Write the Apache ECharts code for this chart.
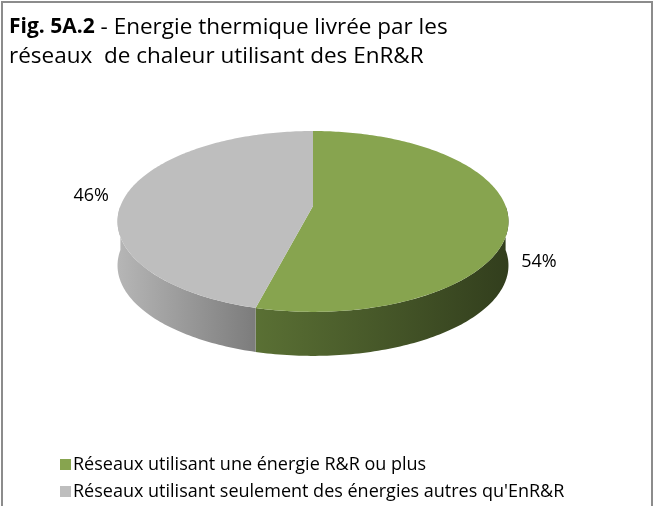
<!DOCTYPE html>
<html>
<head>
<meta charset="utf-8">
<script src="https://cdn.jsdelivr.net/npm/echarts@6/dist/echarts.min.js"></script>
<style>
  html, body { margin: 0; padding: 0; background: #fff; }
  #chart { width: 656px; height: 506px; }
</style>
</head>
<body>
<div id="chart"></div>
<script>
// data
const categories = ['Réseaux utilisant une énergie R&R ou plus', "Réseaux utilisant seulement des énergies autres qu'EnR&R"];
const shares = [54, 46];

// look
const topColors = ['#87a44f', '#bebebe'];
const sideColors = [['#5a7034', '#323e1d'], ['#b6b6b6', '#7c7c7c']];
const labelShift = [[13, 45], [-17, 1]];

// 3d projection of the pie disc
const CX = 313, CY = 206, A = 192.6, B = 87.8, K = 0.171, H = 44;
function proj(deg) {
  const t = deg * Math.PI / 180;
  const u = Math.sin(t), v = -Math.cos(t);
  const s = 1 / (1 - K * v);
  return [CX + A * u * s, CY + B * v * s];
}
function arc(a0, a1, dy) {
  const pts = [];
  const n = Math.max(2, Math.ceil(Math.abs(a1 - a0)));
  for (let i = 0; i <= n; i++) {
    const p = proj(a0 + (a1 - a0) * i / n);
    pts.push([p[0], p[1] + dy]);
  }
  return pts;
}

const total = shares.reduce((a, b) => a + b, 0);

const chart = echarts.init(document.getElementById('chart'));

function renderSlice(params, api) {
  const i = params.dataIndex;
  let before = 0;
  for (let j = 0; j < i; j++) before += shares[j];
  const a0 = before / total * 360;
  const a1 = a0 + api.value(0) / total * 360;
  const children = [];

  // side wall (front half only)
  const s0 = Math.max(a0, 90), s1 = Math.min(a1, 270);
  if (s1 > s0) {
    const topEdge = arc(s0, s1, 0);
    const botEdge = arc(s1, s0, H);
    const xs = topEdge.map(p => p[0]);
    const x0 = Math.min.apply(null, xs), x1 = Math.max.apply(null, xs);
    children.push({
      type: 'polygon',
      z2: 1,
      shape: { points: topEdge.concat(botEdge) },
      style: {
        fill: new echarts.graphic.LinearGradient(x0, 0, x1, 0, [
          { offset: 0, color: sideColors[i][0] },
          { offset: 1, color: sideColors[i][1] }
        ], true)
      }
    });
  }

  // top face
  children.push({
    type: 'polygon',
    z2: 10,
    shape: { points: [[CX, CY]].concat(arc(a0, a1, 0)) },
    style: { fill: topColors[i] }
  });

  // percentage label
  const mid = proj((a0 + a1) / 2);
  const right = mid[0] > CX;
  children.push({
    type: 'text',
    z2: 20,
    x: mid[0] + labelShift[i][0],
    y: mid[1] + labelShift[i][1],
    style: {
      text: Math.round(api.value(0) / total * 100) + '%',
      fill: '#000',
      font: '18px "Open Sans"',
      align: right ? 'left' : 'right',
      verticalAlign: 'middle'
    }
  });

  return { type: 'group', children: children };
}

const option = {
  animation: false,
  title: {
    text: '{b|Fig. 5A.2} - Energie thermique livrée par les\nréseaux  de chaleur utilisant des EnR&R',
    left: 4,
    top: 8,
    textStyle: {
      fontFamily: 'Open Sans',
      fontSize: 22.5,
      fontWeight: 'normal',
      color: '#000',
      lineHeight: 29,
      rich: {
        b: { fontFamily: 'Open Sans', fontSize: 21, fontWeight: 'bold', color: '#000', lineHeight: 29 }
      }
    }
  },
  legend: {
    orient: 'vertical',
    left: 60,
    top: 454,
    height: 120,
    padding: 0,
    icon: 'rect',
    itemWidth: 11,
    itemHeight: 11,
    itemGap: 6,
    data: categories,
    textStyle: { fontFamily: 'Open Sans', fontSize: 18, color: '#000', lineHeight: 21, padding: [0, 0, 0, -3] }
  },
  graphic: [{
    type: 'rect',
    shape: { x: 2, y: 2, width: 650, height: 520 },
    style: { fill: 'none', stroke: '#8c8c8c', lineWidth: 2 },
    silent: true
  }],
  series: [
    {
      type: 'custom',
      coordinateSystem: 'none',
      renderItem: renderSlice,
      data: shares.map((v, i) => ({ name: categories[i], value: [v] }))
    },
    {
      // only feeds the legend
      type: 'pie',
      radius: [0, 0],
      silent: true,
      label: { show: false },
      data: shares.map((v, i) => ({ name: categories[i], value: v, itemStyle: { color: topColors[i] } }))
    }
  ]
};

chart.setOption(option);
</script>
</body>
</html>
